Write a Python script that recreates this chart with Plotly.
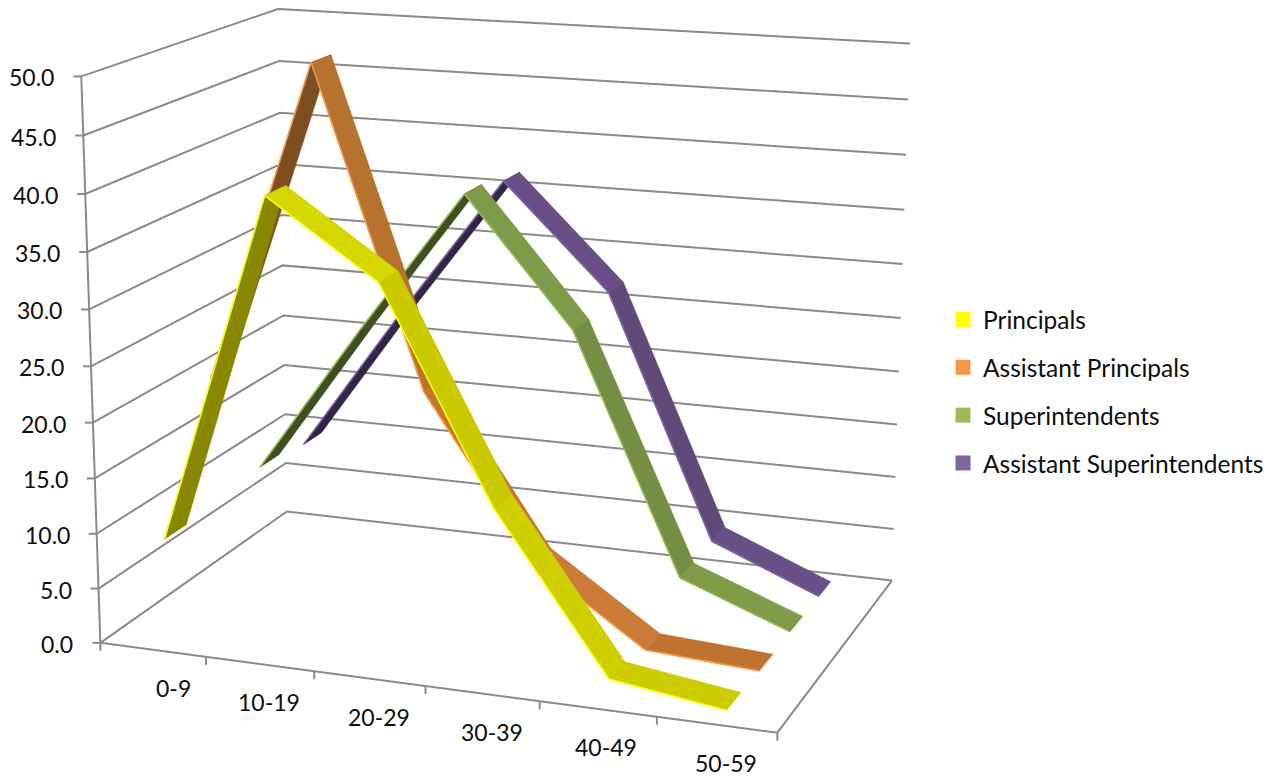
import numpy as np
import plotly.graph_objects as go

categories = ["0-9", "10-19", "20-29", "30-39", "40-49", "50-59"]
value_ticks = [0, 5, 10, 15, 20, 25, 30, 35, 40, 45, 50]
principals = [9.2, 40.4, 33.8, 15.3, 1.6, 0.2]
assistant_principals = [21.1, 50.0, 21.8, 7.4, 0.7, 0.1]
superintendents = [10.0, 24.0, 37.3, 25.8, 4.0, 0.2]
assistant_superintendents = [9.4, 23.3, 36.5, 26.9, 4.3, 0.2]
series_names = ["Principals", "Assistant Principals", "Superintendents", "Assistant Superintendents"]
series_values = [principals, assistant_principals, superintendents, assistant_superintendents]

# Camera of the 3-D box: where known box points fall on the page (u along categories, v depth, w height).
anchors = [((0,0,0),(100,642.5)),((1,0,0),(777,732)),((1,1,0),(892,580)),((0,1,0),(287,512)),((0,0,1),(81.5,76)),((0,1,1),(278,9)),((1,1,1),(910,44)),
 ((1,1,.9),(908,99)),((0,1,.9),(279,61)),((0,1,.8),(280,113)),((0,1,.1),(286,463)),((0,1,.2),(285,414)),
 ((0,0,.9),(83,136)),((0,0,.8),(85,194)),((0,0,.2),(97,533)),((0,0,.1),(99,588)),((1/6,0,0),(206,658)),((5/6,0,0),(657,718))]
A = []; b = []
for (u,v,w),(x,y) in anchors:
    A.append([u,v,w,1,0,0,0,0,-x*u,-x*v,-x*w]); b.append(x)
    A.append([0,0,0,0,u,v,w,1,-y*u,-y*v,-y*w]); b.append(y)
h = np.linalg.lstsq(np.array(A,float),np.array(b,float),rcond=None)[0]
P = np.append(h,1).reshape(3,4)
def proj(u,v,w):
    t = P @ np.array([u,v,w,1.0])
    return t[0]/t[2], t[1]/t[2]

RIBBON = 0.108
centres = [0.125,0.375,0.625,0.875]
OFF = 8   # the page's own body margin
GREY = "#8a8a8a"
base = ["#ffff00","#f79646","#9bbb59","#8064a2"]
face = [["#878700","#d6d600","#c9c900","#cfcf00","#cccc00"],
        ["#7d4e21","#b8722f","#c4752f","#cd7b38","#c07230"],
        ["#3f4f22","#3f4f22","#7d9b48","#748e42","#7f9c49"],
        ["#332645","#332645","#6a4e87","#624a78","#6a4f88"]]
label_dx = [21, 9.5, 9, 10, 8.5, 9]

fig = go.Figure()
gx = []; gy = []
def seg(pts):
    for p in pts:
        x,y = proj(*p); gx.append(x); gy.append(y)
    gx.append(None); gy.append(None)
for t in value_ticks:
    w = t/50
    seg([(0,0,w),(0,1,w),(1,1,w)])
    x,y = proj(0,0,w); gx.extend([x-8,x,None]); gy.extend([y,y,None])
seg([(0,0,0),(0,0,1)]); seg([(0,0,0),(1,0,0),(1,1,0)])
for i in range(7):
    x,y = proj(i/6,0,0); gx.extend([x,x,None]); gy.extend([y,y+8,None])
fig.add_trace(go.Scatter(x=gx,y=gy,mode="lines",line=dict(color=GREY,width=2),showlegend=False,hoverinfo="skip"))
for k in [3,2,1,0]:
    vf = centres[k]-RIBBON/2; vb = centres[k]+RIBBON/2
    vals = series_values[k]
    for i in range(5):
        u0 = (i+.5)/6; u1 = (i+1.5)/6
        q = [proj(u0,vf,vals[i]/50),proj(u1,vf,vals[i+1]/50),proj(u1,vb,vals[i+1]/50),proj(u0,vb,vals[i]/50),proj(u0,vf,vals[i]/50)]
        fig.add_trace(go.Scatter(x=[a[0] for a in q],y=[a[1] for a in q],mode="lines",fill="toself",fillcolor=face[k][i],
                                 line=dict(color=face[k][i],width=0.5),showlegend=False,hoverinfo="skip"))
        fig.add_trace(go.Scatter(x=[q[0][0],q[1][0]],y=[q[0][1],q[1][1]],mode="lines",line=dict(color=base[k],width=1.6),showlegend=False,hoverinfo="skip"))
for k,n in enumerate(series_names):
    fig.add_trace(go.Scatter(x=[None],y=[None],mode="markers",name=n,legendgroup=n,marker=dict(symbol="square",size=15,color=base[k])))
FONT = dict(family="Lato",size=23,color="#0d0d0d")
ann = []
for t in value_ticks:
    x,y = proj(0,0,t/50)
    ann.append(dict(x=x-25,y=y+1,text=f"{t:.1f}",xanchor="right",yanchor="middle",showarrow=False,font=FONT))
for i,c in enumerate(categories):
    x,y = proj((i+.5)/6,0,0)
    ann.append(dict(x=x+label_dx[i],y=y+38,text=c,xanchor="center",yanchor="middle",showarrow=False,font=FONT))
fig.update_layout(width=1268,height=768,margin=dict(l=0,r=0,t=0,b=0),paper_bgcolor="white",plot_bgcolor="white",
 xaxis=dict(range=[OFF,1276],visible=False,fixedrange=True),yaxis=dict(range=[776,OFF],visible=False,fixedrange=True),
 annotations=ann,
 legend=dict(x=(943-OFF)/1268,y=1-(297-OFF)/768,xanchor="left",yanchor="top",font=dict(family="Lato",size=24.5,color="#0d0d0d"),tracegroupgap=13,bgcolor="rgba(0,0,0,0)"))
fig.write_html("out.html")
